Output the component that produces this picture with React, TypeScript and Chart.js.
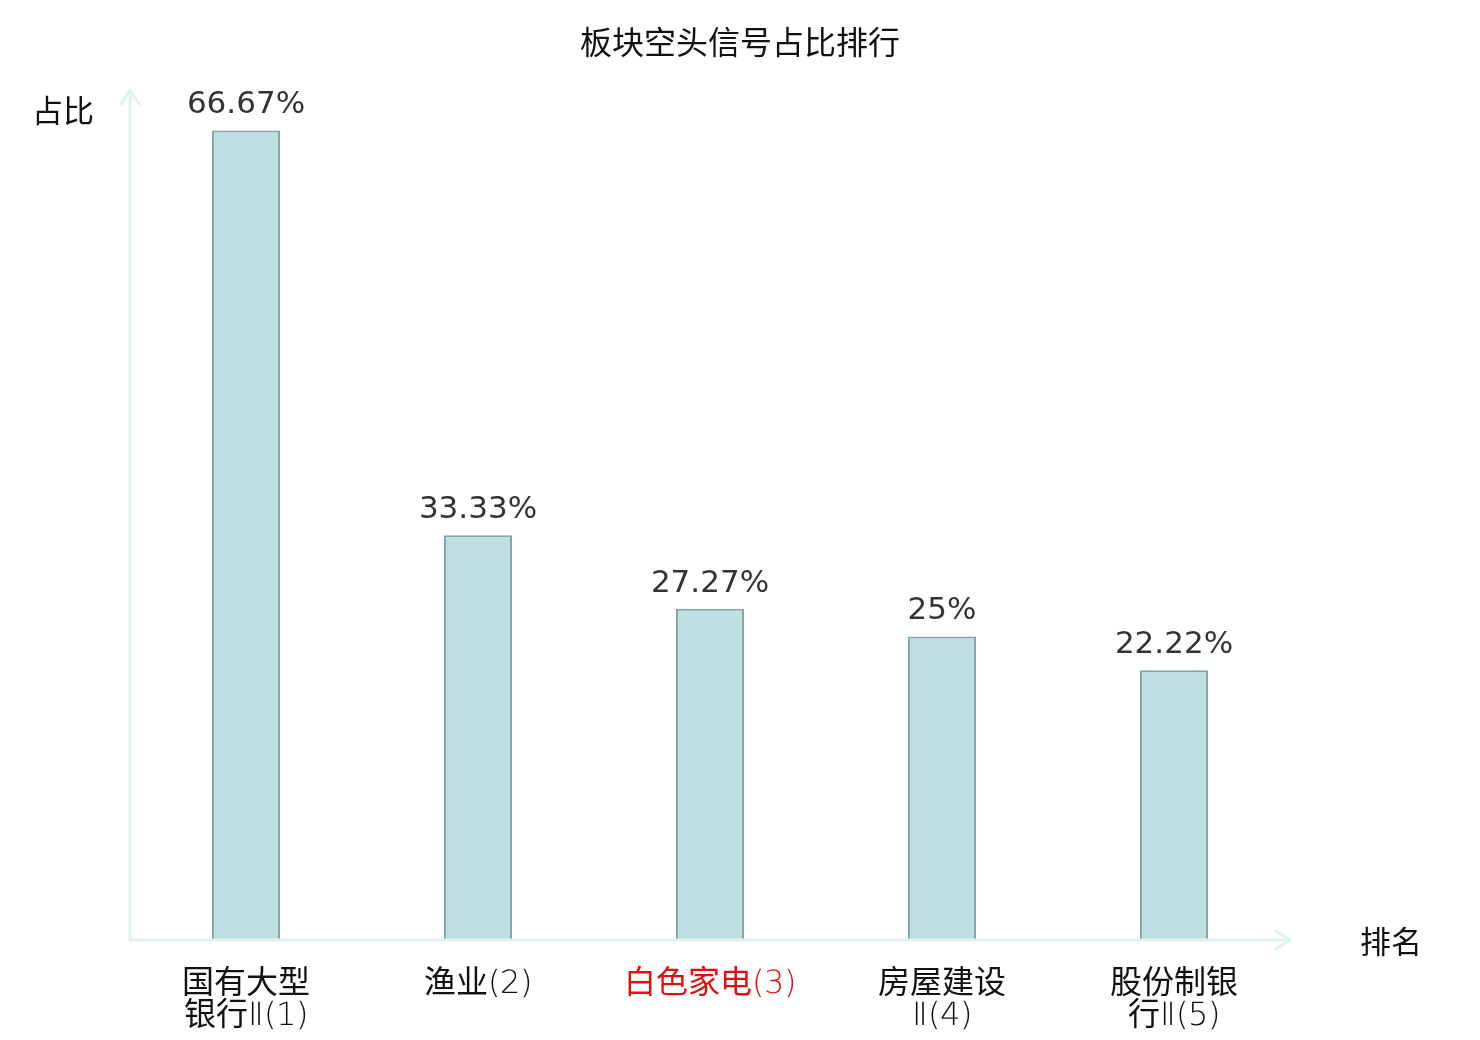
import React, { useEffect, useRef } from "react";
import { Chart, registerables, Plugin } from "chart.js";

Chart.register(...registerables);

const categories: string[][] = [
  ["国有大型", "银行Ⅱ(1)"],
  ["渔业(2)"],
  ["白色家电(3)"],
  ["房屋建设", "Ⅱ(4)"],
  ["股份制银", "行Ⅱ(5)"],
];
const shares = [66.67, 33.33, 27.27, 25, 22.22];
const valueLabels = ["66.67%", "33.33%", "27.27%", "25%", "22.22%"];
const highlightIndex = 2;

const titleText = "板块空头信号占比排行";
const yAxisName = "占比";
const xAxisName = "排名";

const CJK = '"Noto Sans CJK SC", sans-serif';
// 类目标签：拉丁字符用细体，中文用常规体
const THIN = '"LabelThin", "Noto Sans CJK SC", sans-serif';
const LATIN = '"DejaVu Sans", "Noto Sans CJK SC", sans-serif';
const AXIS_COLOR = "#dff2ef";

const fontCss = `
@font-face {
  font-family: "LabelThin";
  src: local("DejaVu Sans ExtraLight"), local("DejaVuSans-ExtraLight");
  unicode-range: U+0000-00FF, U+2160-216F;
}`;

// 标题 + 轴线箭头 + 轴名 + 柱顶数值
const decorPlugin: Plugin<"bar"> = {
  id: "decor",
  afterDatasetsDraw(chart) {
    const { ctx, chartArea, width } = chart;
    const { left, right, top, bottom } = chartArea;
    ctx.save();

    ctx.fillStyle = "#111";
    ctx.font = `32px ${CJK}`;
    ctx.textAlign = "center";
    ctx.textBaseline = "middle";
    ctx.fillText(titleText, width / 2, 42);

    ctx.strokeStyle = AXIS_COLOR;
    ctx.lineWidth = 3;
    ctx.lineCap = "round";
    ctx.lineJoin = "round";
    ctx.beginPath();
    ctx.moveTo(left, bottom);
    ctx.lineTo(left, top);
    ctx.moveTo(left - 9, top + 14);
    ctx.lineTo(left, top);
    ctx.lineTo(left + 9, top + 14);
    ctx.moveTo(left, bottom);
    ctx.lineTo(right, bottom);
    ctx.moveTo(right - 14, bottom - 9);
    ctx.lineTo(right, bottom);
    ctx.lineTo(right - 14, bottom + 9);
    ctx.stroke();

    ctx.fillStyle = "#111";
    ctx.font = `31px ${CJK}`;
    ctx.fillText(yAxisName, left - 67, top + 20);
    ctx.fillText(xAxisName, right + 101, bottom + 1);

    const meta = chart.getDatasetMeta(0);
    ctx.fillStyle = "#333";
    ctx.font = `31px ${LATIN}`;
    ctx.textBaseline = "alphabetic";
    meta.data.forEach((bar, i) => {
      ctx.fillText(valueLabels[i], bar.x, bar.y - 17);
    });
    ctx.restore();
  },
};

export default function App() {
  const canvasRef = useRef<HTMLCanvasElement>(null);

  useEffect(() => {
    document.body.style.margin = "0";
    const style = document.createElement("style");
    style.textContent = fontCss;
    document.head.appendChild(style);

    let chart: Chart | null = null;
    let cancelled = false;

    const build = () => {
      if (cancelled || !canvasRef.current) return;
      chart = new Chart(canvasRef.current, {
        type: "bar",
        data: {
          labels: categories,
          datasets: [
            {
              data: shares,
              backgroundColor: "#bde0e2",
              borderColor: "#88a5a6",
              borderWidth: 2,
              barPercentage: 0.293,
              categoryPercentage: 1,
            },
          ],
        },
        options: {
          animation: false,
          responsive: false,
          devicePixelRatio: 1,
          layout: { padding: { left: 130, right: 190, top: 90, bottom: 0 } },
          plugins: {
            legend: { display: false },
            tooltip: { enabled: false },
          },
          scales: {
            x: {
              grid: { display: false, drawTicks: false },
              border: { display: false },
              ticks: {
                padding: 29,
                color: (c) => (c.index === highlightIndex ? "#e01010" : "#111"),
                font: { family: THIN, size: 32, lineHeight: 1.0 },
                maxRotation: 0,
                autoSkip: false,
              },
              afterFit: (scale) => {
                scale.height = 100;
              },
            },
            y: {
              min: 0,
              max: 70,
              display: false,
            },
          },
        },
        plugins: [decorPlugin],
      });
    };

    document.fonts
      .load('32px "LabelThin"', "Ⅱ(1)")
      .catch(() => null)
      .then(build);

    return () => {
      cancelled = true;
      chart?.destroy();
      style.remove();
    };
  }, []);

  return (
    <div style={{ position: "absolute", left: 0, top: 0, width: 1480, height: 1040 }}>
      <canvas ref={canvasRef} width={1480} height={1040} />
    </div>
  );
}
